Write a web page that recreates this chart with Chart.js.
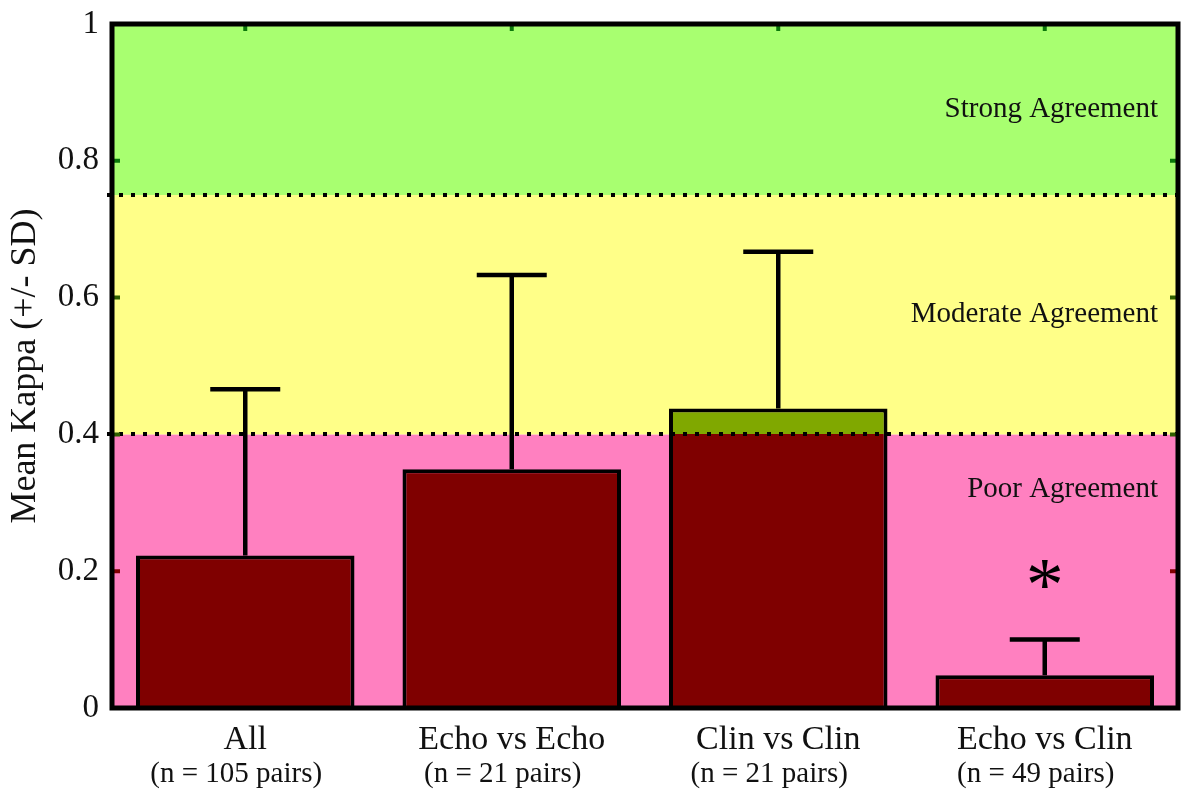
<!DOCTYPE html>
<html>
<head>
<meta charset="utf-8">
<script src="https://cdn.jsdelivr.net/npm/chart.js@4.4.1/dist/chart.umd.min.js"></script>
<style>
  html, body { margin: 0; padding: 0; background: #fff; }
  #wrap { width: 1187px; height: 796px; }
</style>
</head>
<body>
<div id="wrap"><canvas id="kappaChart"></canvas></div>
<script>
// Mean kappa per comparison group, with SD
const groups = ['All', 'Echo vs Echo', 'Clin vs Clin', 'Echo vs Clin'];
const pairCounts = ['(n = 105 pairs)', '(n = 21 pairs)', '(n = 21 pairs)', '(n = 49 pairs)'];
const meanKappa = [0.223, 0.349, 0.438, 0.048];
const sdKappa = [0.243, 0.284, 0.229, 0.052];
const significant = [false, false, false, true];

// Agreement bands
const bandEdges = [0, 0.4, 0.75, 1];
const bandNames = ['Poor Agreement', 'Moderate Agreement', 'Strong Agreement'];
const bandLabelAt = [0.32, 0.575, 0.875];
const yTickValues = [0.2, 0.4, 0.6, 0.8];

const SERIF = "'Liberation Serif', 'Times New Roman', serif";
const bandFill = ['#ff80c0', '#ffff88', '#a8ff70'];
const tickInk = ['#800000', '#2f6000', '#0a780a'];
const barInk = ['#7f0000', '#80a800', '#80a800'];

function bandOf(v) {
    for (let b = 0; b < bandNames.length; b++) {
        if (v < bandEdges[b + 1]) return b;
    }
    return bandNames.length - 1;
}

// bar fill switches colour where it crosses into the moderate band
function barFill(context) {
    const chart = context.chart;
    if (!chart.chartArea) return barInk[0];
    const y = chart.scales.y;
    const yCut = y.getPixelForValue(bandEdges[1]);
    const t = (yCut - chart.chartArea.top) / (chart.chartArea.bottom - chart.chartArea.top);
    const g = chart.ctx.createLinearGradient(0, chart.chartArea.top, 0, chart.chartArea.bottom);
    g.addColorStop(0, barInk[1]);
    g.addColorStop(t, barInk[1]);
    g.addColorStop(t, barInk[0]);
    g.addColorStop(1, barInk[0]);
    return g;
}

const bandsPlugin = {
    id: 'bands',
    beforeDatasetsDraw(chart) {
        const { ctx, chartArea: a, scales: { y } } = chart;
        ctx.save();
        for (let b = 0; b < bandNames.length; b++) {
            const top = y.getPixelForValue(bandEdges[b + 1]);
            const bot = y.getPixelForValue(bandEdges[b]);
            ctx.fillStyle = bandFill[b];
            ctx.fillRect(a.left, top, a.right - a.left, bot - top);
        }
        ctx.fillStyle = '#111';
        ctx.font = '29px ' + SERIF;
        ctx.textAlign = 'right';
        ctx.textBaseline = 'middle';
        bandNames.forEach((name, b) => {
            ctx.fillText(name, a.right - 20, y.getPixelForValue(bandLabelAt[b]));
        });
        ctx.restore();
    }
};

const overlayPlugin = {
    id: 'overlay',
    afterDatasetsDraw(chart) {
        const { ctx, chartArea: a, scales: { x, y } } = chart;
        const meta = chart.getDatasetMeta(0);
        ctx.save();

        // error bars (+SD only)
        ctx.strokeStyle = '#000';
        ctx.lineWidth = 4.5;
        meta.data.forEach((bar, i) => {
            const yBar = y.getPixelForValue(meanKappa[i]);
            const yTop = y.getPixelForValue(meanKappa[i] + sdKappa[i]);
            ctx.beginPath();
            ctx.moveTo(bar.x, yBar);
            ctx.lineTo(bar.x, yTop);
            ctx.moveTo(bar.x - 35, yTop);
            ctx.lineTo(bar.x + 35, yTop);
            ctx.stroke();
        });

        // dotted band boundaries
        ctx.setLineDash([4, 8]);
        ctx.lineWidth = 4;
        for (let b = 1; b < bandEdges.length - 1; b++) {
            const yy = Math.round(y.getPixelForValue(bandEdges[b]));
            ctx.beginPath();
            ctx.moveTo(a.left - 5, yy);
            ctx.lineTo(a.right, yy);
            ctx.stroke();
        }
        ctx.setLineDash([]);

        // inward ticks on left/right and top
        ctx.lineWidth = 4;
        yTickValues.forEach(v => {
            const yy = y.getPixelForValue(v);
            ctx.strokeStyle = tickInk[bandOf(v)];
            ctx.beginPath();
            ctx.moveTo(a.left, yy);
            ctx.lineTo(a.left + 8, yy);
            ctx.moveTo(a.right, yy);
            ctx.lineTo(a.right - 8, yy);
            ctx.stroke();
        });
        ctx.strokeStyle = tickInk[2];
        groups.forEach((g, i) => {
            const xx = x.getPixelForValue(i);
            ctx.beginPath();
            ctx.moveTo(xx, a.top);
            ctx.lineTo(xx, a.top + 7);
            ctx.stroke();
        });

        // frame
        ctx.strokeStyle = '#000';
        ctx.lineWidth = 5;
        ctx.strokeRect(a.left, a.top, a.right - a.left, a.bottom - a.top);

        // significance marker
        ctx.fillStyle = '#000';
        ctx.font = '76px ' + SERIF;
        ctx.textAlign = 'center';
        ctx.textBaseline = 'alphabetic';
        meta.data.forEach((bar, i) => {
            if (!significant[i]) return;
            const yTop = y.getPixelForValue(meanKappa[i] + sdKappa[i]);
            ctx.fillText('*', bar.x, yTop - 30);
        });

        // pair counts under category names
        ctx.font = '29px ' + SERIF;
        ctx.textBaseline = 'middle';
        ctx.fillStyle = '#111';
        groups.forEach((g, i) => {
            ctx.fillText(pairCounts[i], x.getPixelForValue(i) - 9, a.bottom + 66);
        });
        ctx.restore();
    }
};

new Chart(document.getElementById('kappaChart'), {
    type: 'bar',
    data: {
        labels: groups,
        datasets: [{
            data: meanKappa,
            backgroundColor: barFill,
            borderColor: '#000',
            borderWidth: 4,
            borderSkipped: 'bottom',
            barPercentage: 0.82,
            categoryPercentage: 1.0
        }]
    },
    options: {
        responsive: true,
        maintainAspectRatio: false,
        animation: false,
        layout: { padding: { top: 24, right: 9, left: 0, bottom: 0 } },
        plugins: {
            legend: { display: false },
            tooltip: { enabled: false }
        },
        scales: {
            x: {
                grid: { display: false, drawTicks: false },
                border: { display: false },
                ticks: {
                    color: '#111',
                    padding: 12,
                    font: { family: SERIF, size: 34 }
                },
                afterFit: s => { s.height = 88; }
            },
            y: {
                min: 0,
                max: 1,
                grid: { display: false, drawTicks: false },
                border: { display: false },
                ticks: {
                    stepSize: 0.2,
                    color: '#111',
                    padding: 13,
                    font: { family: SERIF, size: 33 },
                    callback: v => String(+v.toFixed(1))
                },
                title: {
                    display: true,
                    text: 'Mean Kappa (+/- SD)',
                    color: '#111',
                    padding: 4,
                    font: { family: SERIF, size: 36 }
                },
                afterFit: s => {
                    s.width = 112;
                    s.paddingTop = 0;
                    s.paddingBottom = 0;
                }
            }
        }
    },
    plugins: [bandsPlugin, overlayPlugin]
});
</script>
</body>
</html>
